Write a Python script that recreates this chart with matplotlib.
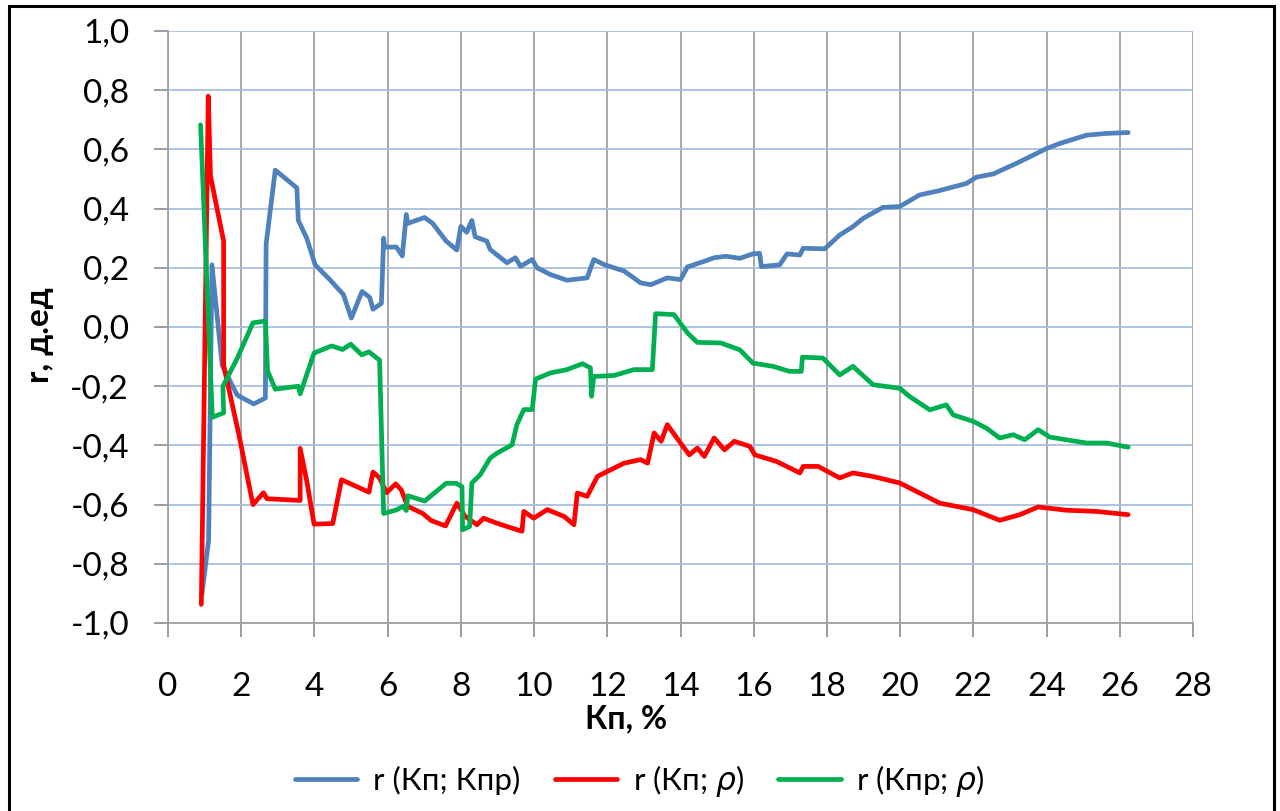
import matplotlib
matplotlib.use("Agg")
import matplotlib.pyplot as plt
from matplotlib.patches import Rectangle
from matplotlib.ticker import FixedLocator, FixedFormatter

# ---------------- data ----------------
blue_x = [0.93, 1.11, 1.20, 1.48, 1.89, 2.34, 2.66, 2.68, 2.93, 3.52, 3.56, 3.79, 4.02, 4.42, 4.79,
          5.01, 5.30, 5.51, 5.60, 5.83, 5.89, 5.92, 6.24, 6.40, 6.51, 6.55, 7.01, 7.23, 7.60, 7.89,
          8.00, 8.16, 8.30, 8.39, 8.71, 8.80, 9.26, 9.49, 9.63, 9.95, 10.08, 10.45, 10.90, 11.45,
          11.63, 11.91, 12.46, 12.91, 13.19, 13.64, 14.00, 14.19, 14.65, 14.92, 15.24, 15.62, 15.98,
          16.16, 16.21, 16.71, 16.91, 17.26, 17.35, 17.94, 18.35, 18.71, 18.99, 19.53, 19.99, 20.53,
          21.08, 21.81, 22.08, 22.54, 23.18, 24.00, 24.36, 25.09, 25.64, 26.23]
blue_y = [-0.90, -0.72, 0.21, -0.13, -0.23, -0.26, -0.24, 0.28, 0.53, 0.47, 0.36, 0.30, 0.21, 0.16, 0.11,
          0.03, 0.12, 0.10, 0.06, 0.08, 0.30, 0.27, 0.27, 0.24, 0.38, 0.35, 0.37, 0.35, 0.29, 0.26,
          0.34, 0.32, 0.36, 0.305, 0.29, 0.262, 0.217, 0.234, 0.205, 0.228, 0.20, 0.177, 0.158, 0.166,
          0.228, 0.211, 0.189, 0.149, 0.143, 0.166, 0.16, 0.203, 0.222, 0.234, 0.239, 0.232, 0.247,
          0.249, 0.204, 0.21, 0.247, 0.243, 0.266, 0.264, 0.311, 0.339, 0.367, 0.404, 0.407, 0.446,
          0.461, 0.485, 0.506, 0.517, 0.553, 0.603, 0.62, 0.648, 0.654, 0.657]

red_x = [0.91, 1.10, 1.16, 1.52, 1.52, 1.93, 2.32, 2.61, 2.70, 3.61, 3.61, 3.79, 3.99, 4.50, 4.74,
         5.49, 5.60, 5.78, 5.97, 6.22, 6.37, 6.55, 6.96, 7.19, 7.58, 7.89, 8.12, 8.44, 8.62, 8.99,
         9.26, 9.67, 9.72, 9.99, 10.36, 10.82, 11.09, 11.18, 11.45, 11.73, 12.00, 12.46, 12.91, 13.10,
         13.28, 13.47, 13.64, 14.00, 14.24, 14.46, 14.65, 14.92, 15.20, 15.47, 15.89, 16.03, 16.62,
         17.26, 17.35, 17.76, 18.35, 18.71, 19.26, 19.99, 20.44, 21.08, 21.99, 22.72, 23.27, 23.77,
         24.54, 25.36, 26.23]
red_y = [-0.937, 0.78, 0.51, 0.29, -0.13, -0.36, -0.60, -0.56, -0.58, -0.586, -0.41, -0.52, -0.666, -0.664,
         -0.516, -0.558, -0.49, -0.51, -0.56, -0.53, -0.55, -0.606, -0.63, -0.654, -0.672, -0.595, -0.64,
         -0.668, -0.646, -0.663, -0.674, -0.69, -0.623, -0.646, -0.617, -0.64, -0.668, -0.561, -0.572,
         -0.505, -0.488, -0.46, -0.448, -0.46, -0.358, -0.386, -0.33, -0.392, -0.432, -0.409, -0.437,
         -0.375, -0.415, -0.386, -0.403, -0.432, -0.454, -0.493, -0.471, -0.471, -0.51, -0.493, -0.505,
         -0.527, -0.555, -0.595, -0.617, -0.653, -0.634, -0.608, -0.619, -0.623, -0.634]

green_x = [0.89, 1.21, 1.52, 1.50, 1.89, 2.32, 2.66, 2.72, 2.93, 3.56, 3.61, 3.99, 4.47, 4.77, 4.99,
           5.29, 5.49, 5.78, 5.89, 6.24, 6.42, 6.51, 6.55, 7.01, 7.60, 7.87, 8.03, 8.05, 8.24, 8.30,
           8.53, 8.80, 8.99, 9.40, 9.53, 9.72, 9.95, 10.04, 10.45, 10.90, 11.32, 11.54, 11.57, 11.63,
           12.18, 12.73, 13.23, 13.32, 13.82, 14.19, 14.46, 15.10, 15.62, 15.98, 16.53, 16.98, 17.30,
           17.33, 17.89, 18.35, 18.71, 19.26, 19.99, 20.26, 20.81, 21.26, 21.45, 22.00, 22.36, 22.72,
           23.09, 23.40, 23.77, 24.09, 24.54, 25.09, 25.64, 26.23]
green_y = [0.683, -0.305, -0.29, -0.20, -0.106, 0.014, 0.02, -0.148, -0.21, -0.20, -0.226, -0.088, -0.064,
           -0.076, -0.058, -0.094, -0.084, -0.112, -0.63, -0.618, -0.606, -0.62, -0.57, -0.588, -0.528,
           -0.528, -0.539, -0.685, -0.674, -0.527, -0.499, -0.443, -0.426, -0.398, -0.330, -0.279, -0.279,
           -0.176, -0.155, -0.144, -0.124, -0.138, -0.234, -0.167, -0.164, -0.144, -0.144, 0.045, 0.042,
           -0.020, -0.052, -0.054, -0.077, -0.122, -0.133, -0.15, -0.15, -0.102, -0.105, -0.162, -0.133,
           -0.195, -0.207, -0.235, -0.28, -0.263, -0.297, -0.319, -0.342, -0.375, -0.364, -0.381, -0.347,
           -0.372, -0.381, -0.392, -0.392, -0.406]

series_labels = ["r (Кп; Кпр)", "r (Кп; $\\rho$)", "r (Кпр; $\\rho$)"]
x_ticks = [0, 2, 4, 6, 8, 10, 12, 14, 16, 18, 20, 22, 24, 26, 28]
y_ticks = [-1.0, -0.8, -0.6, -0.4, -0.2, 0.0, 0.2, 0.4, 0.6, 0.8, 1.0]
y_tick_labels = ["-1,0", "-0,8", "-0,6", "-0,4", "-0,2", "0,0", "0,2", "0,4", "0,6", "0,8", "1,0"]
x_label = "Кп, %"
y_label = "r, д.ед"

# ---------------- style ----------------
plt.rcParams['font.family'] = ['Lato', 'Open Sans', 'DejaVu Sans']
plt.rcParams['mathtext.fontset'] = 'dejavusans'

W, H = 1280, 811
fig = plt.figure(figsize=(W / 100, H / 100), dpi=100)
fig.patch.set_facecolor('white')

ax = fig.add_axes([168 / W, 1 - 623 / H, (1193 - 168) / W, (623 - 31) / H])

colors = ["#4F81BD", "#FF0000", "#00B050"]
for xs, ys, c, lab in zip([blue_x, red_x, green_x], [blue_y, red_y, green_y], colors, series_labels):
    ax.plot(xs, ys, color=c, lw=3.4, label=lab, solid_joinstyle='round', solid_capstyle='round')

ax.set_xlim(0, 28)
ax.set_ylim(-1.0, 1.0)
ax.xaxis.set_major_locator(FixedLocator(x_ticks))
ax.yaxis.set_major_locator(FixedLocator(y_ticks))
ax.yaxis.set_major_formatter(FixedFormatter(y_tick_labels))

ax.set_axisbelow(True)
ax.yaxis.grid(True, color="#A7BFDE", lw=1.3)
ax.xaxis.grid(True, color="#A0A0A0", lw=1.3)
for s in ['top', 'right']:
    ax.spines[s].set_visible(False)
for s in ['left', 'bottom']:
    ax.spines[s].set_color("#A0A0A0")
    ax.spines[s].set_linewidth(1.3)

ax.tick_params(axis='both', direction='out', length=10, width=1.2, color="#8C8C8C",
               labelsize=24, labelcolor="#000000")
ax.tick_params(axis='y', pad=18)
ax.tick_params(axis='x', pad=25)

fig.text(626 / W, 1 - 719 / H, x_label, ha='center', va='center', fontsize=23, fontweight='bold')
fig.text(40 / W, 1 - 335 / H, y_label, ha='center', va='center', fontsize=24, fontweight='bold',
         rotation=90)

handles, labels = ax.get_legend_handles_labels()
fig.legend(handles, labels, loc='center', bbox_to_anchor=(640 / W, 1 - 781 / H), ncol=3,
           frameon=False, fontsize=22.5, handlelength=2.0, handletextpad=0.5, columnspacing=1.1)

fig.patches.append(Rectangle((9 / W, -0.01), (1274 - 9) / W, (811 - 6) / H + 0.01,
                             transform=fig.transFigure, fill=False, edgecolor='black', lw=2.2))

fig.savefig("out.png", dpi=100, facecolor='white')
